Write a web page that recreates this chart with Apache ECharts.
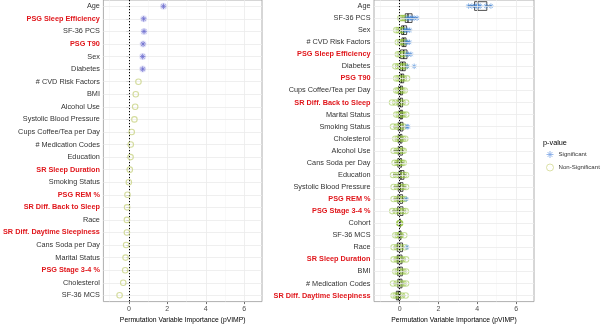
<!DOCTYPE html>
<html>
<head>
<meta charset="utf-8">
<script src="https://cdn.jsdelivr.net/npm/echarts@6/dist/echarts.min.js"></script>
<style>
  html, body { margin: 0; padding: 0; background: #fff; }
  #chart { width: 600px; height: 329px; }
</style>
</head>
<body>
<div id="chart"></div>
<script>
// left panel: one pVIMP per variable
const leftCats = [
  'Age', 'PSG Sleep Efficiency', 'SF-36 PCS', 'PSG T90', 'Sex', 'Diabetes',
  '# CVD Risk Factors', 'BMI', 'Alcohol Use', 'Systolic Blood Pressure',
  'Cups Coffee/Tea per Day', '# Medication Codes', 'Education', 'SR Sleep Duration',
  'Smoking Status', 'PSG REM %', 'SR Diff. Back to Sleep', 'Race',
  'SR Diff. Daytime Sleepiness', 'Cans Soda per Day', 'Marital Status',
  'PSG Stage 3-4 %', 'Cholesterol', 'SF-36 MCS'
]
const leftVals = [
  1.80, 0.77, 0.79, 0.74, 0.72, 0.72,
  0.50, 0.36, 0.33, 0.29,
  0.15, 0.10, 0.09, 0.05,
  0.00, -0.07, -0.09, -0.10,
  -0.10, -0.14, -0.17,
  -0.19, -0.29, -0.48
]
const leftSignificant = [
  true, true, true, true, true, true,
  false, false, false, false, false, false, false, false, false, false,
  false, false, false, false, false, false, false, false
]

// right panel: boxplots of repeated pVIMP runs
const rightCats = [
  'Age', 'SF-36 PCS', 'Sex', '# CVD Risk Factors', 'PSG Sleep Efficiency',
  'Diabetes', 'PSG T90', 'Cups Coffee/Tea per Day', 'SR Diff. Back to Sleep',
  'Marital Status', 'Smoking Status', 'Cholesterol', 'Alcohol Use',
  'Cans Soda per Day', 'Education', 'Systolic Blood Pressure', 'PSG REM %',
  'PSG Stage 3-4 %', 'Cohort', 'SF-36 MCS', 'Race', 'SR Sleep Duration',
  'BMI', '# Medication Codes', 'SR Diff. Daytime Sleepiness'
]
// [lower whisker, Q1, median, Q3, upper whisker]
const rightBox = [
  [3.55, 3.86, 4.02, 4.49, 4.70],
  [0.04, 0.29, 0.43, 0.64, 0.90],
  [-0.17, 0.10, 0.20, 0.36, 0.60],
  [-0.09, 0.12, 0.21, 0.33, 0.50],
  [-0.09, 0.05, 0.21, 0.38, 0.58],
  [-0.22, 0.03, 0.15, 0.29, 0.46],
  [-0.17, 0.00, 0.10, 0.21, 0.38],
  [-0.17, -0.05, 0.05, 0.15, 0.26],
  [-0.22, -0.07, 0.03, 0.15, 0.33],
  [-0.17, -0.03, 0.07, 0.15, 0.34],
  [-0.34, -0.07, 0.03, 0.17, 0.43],
  [-0.22, -0.07, 0.02, 0.12, 0.29],
  [-0.31, -0.07, 0.00, 0.14, 0.21],
  [-0.26, -0.09, 0.00, 0.10, 0.21],
  [-0.34, -0.03, 0.07, 0.22, 0.33],
  [-0.31, -0.07, 0.03, 0.17, 0.33],
  [-0.31, -0.09, 0.00, 0.15, 0.24],
  [-0.38, -0.10, 0.00, 0.17, 0.31],
  [-0.02, 0.00, 0.01, 0.02, 0.03],
  [-0.22, -0.03, 0.00, 0.07, 0.24],
  [-0.31, -0.12, 0.00, 0.15, 0.26],
  [-0.31, -0.12, -0.02, 0.12, 0.33],
  [-0.22, -0.10, 0.00, 0.14, 0.33],
  [-0.34, -0.09, 0.00, 0.12, 0.33],
  [-0.31, -0.17, -0.07, 0.03, 0.31]
]
// individual runs, split by p-value
const rightSig = [
  [3.55, 3.72, 3.88, 3.98, 4.05, 4.15, 4.45, 4.70],
  [0.38, 0.48, 0.55, 0.64, 0.75, 0.90],
  [0.25, 0.33, 0.42, 0.52],
  [0.33, 0.42, 0.50],
  [0.36, 0.45, 0.58],
  [0.40, 0.75],
  [], [], [], [],
  [0.38, 0.43],
  [], [], [], [], [],
  [0.34],
  [], [], [],
  [0.38],
  [], [], [], []
]
const rightNonSig = [
  [],
  [0.04, 0.12, 0.20, 0.29],
  [-0.17, -0.05, 0.05, 0.12, 0.18],
  [-0.09, 0.02, 0.10, 0.18, 0.24],
  [-0.09, 0.00, 0.08, 0.16, 0.24],
  [-0.22, -0.08, 0.03, 0.12, 0.20, 0.30],
  [-0.17, -0.06, 0.04, 0.12, 0.22, 0.38],
  [-0.17, -0.08, 0.00, 0.08, 0.15, 0.26],
  [-0.39, -0.22, -0.05, 0.05, 0.15, 0.33],
  [-0.17, -0.05, 0.05, 0.12, 0.20, 0.34],
  [-0.34, -0.15, -0.02, 0.08, 0.20],
  [-0.22, -0.10, 0.00, 0.08, 0.18, 0.29],
  [-0.31, -0.15, -0.05, 0.05, 0.14, 0.21],
  [-0.26, -0.12, -0.04, 0.05, 0.12, 0.21],
  [-0.34, -0.18, -0.02, 0.10, 0.22, 0.33],
  [-0.31, -0.14, 0.00, 0.10, 0.20, 0.33],
  [-0.31, -0.15, -0.04, 0.06, 0.15, 0.24],
  [-0.38, -0.20, -0.05, 0.06, 0.18, 0.31],
  [-0.02, 0.00, 0.01, 0.03],
  [-0.22, -0.10, 0.00, 0.05, 0.24],
  [-0.31, -0.15, -0.04, 0.08, 0.26],
  [-0.31, -0.15, -0.05, 0.06, 0.15, 0.33],
  [-0.22, -0.10, 0.00, 0.10, 0.20, 0.33],
  [-0.34, -0.15, -0.02, 0.10, 0.20, 0.33],
  [-0.31, -0.20, -0.10, 0.00, 0.12, 0.31]
]

const xTicks = [0, 2, 4, 6]
const xMinor = [-1, 1, 3, 5]
// sleep variables are highlighted in the axis labels
const sleepVars = [
  'PSG Sleep Efficiency', 'PSG T90', 'PSG REM %', 'PSG Stage 3-4 %',
  'SR Sleep Duration', 'SR Diff. Back to Sleep', 'SR Diff. Daytime Sleepiness'
]

const font = 'Liberation Sans'
const fs = 7.3
const red = '#e0161b'
const asterisk = 'path://M5,0L5,10M0,5L10,5M1.6,1.6L8.4,8.4M1.6,8.4L8.4,1.6'

function xAxisFor(gridIndex) {
  return {
    type: 'value',
    gridIndex: gridIndex,
    min: -1.32,
    max: 6.92,
    name: 'Permutation Variable Importance (pVIMP)',
    nameLocation: 'middle',
    nameGap: 15,
    nameTextStyle: { fontFamily: font, fontSize: 6.8, color: '#000' },
    axisLine: { show: false },
    axisTick: { show: true, customValues: xTicks, length: 2.5, lineStyle: { color: '#333', width: 0.7 } },
    axisLabel: { customValues: xTicks, fontFamily: font, fontSize: 7, color: '#4d4d4d', margin: 3.5 },
    splitLine: { show: false }
  }
}

function yAxisFor(gridIndex, cats) {
  return {
    type: 'category',
    gridIndex: gridIndex,
    data: cats,
    inverse: true,
    axisLine: { show: false },
    axisTick: { show: true, interval: 0, alignWithLabel: true, length: 2.5, lineStyle: { color: '#333', width: 0.7 } },
    axisLabel: {
      interval: 0,
      margin: 3.5,
      formatter: v => (sleepVars.includes(v) ? '{r|' + v + '}' : '{n|' + v + '}'),
      rich: {
        r: { fontFamily: font, fontSize: fs, fontWeight: 'bold', color: red },
        n: { fontFamily: font, fontSize: fs, color: '#333' }
      }
    },
    splitLine: { show: false }
  }
}

// background grid lines, as ggplot theme_bw draws them
function gridSeries(idx, cats) {
  const lines = []
  xMinor.forEach(v => lines.push({ xAxis: v, lineStyle: { color: '#f3f3f3', width: 0.5, type: 'solid' } }))
  xTicks.forEach(v => lines.push({ xAxis: v, lineStyle: { color: '#ebebeb', width: 0.8, type: 'solid' } }))
  cats.forEach((c, i) => lines.push({ yAxis: i, lineStyle: { color: '#ebebeb', width: 0.8, type: 'solid' } }))
  lines.push({ xAxis: 0, lineStyle: { color: '#000', width: 1, type: [1.2, 1.8] } })
  return {
    type: 'scatter',
    xAxisIndex: idx,
    yAxisIndex: idx,
    data: [],
    silent: true,
    z: 1,
    markLine: { silent: true, symbol: ['none', 'none'], label: { show: false }, animation: false, data: lines }
  }
}

function renderBox(params, api) {
  const row = api.value(5)
  const p = k => api.coord([api.value(k), row])
  const lo = p(0)
  const q1 = p(1)
  const md = p(2)
  const q3 = p(3)
  const hi = p(4)
  const h = api.size([0, 1])[1] * 0.72
  const st = { stroke: '#222', lineWidth: 0.8, fill: null }
  return {
    type: 'group',
    children: [
      { type: 'line', shape: { x1: lo[0], y1: lo[1], x2: q1[0], y2: q1[1] }, style: st },
      { type: 'line', shape: { x1: q3[0], y1: q3[1], x2: hi[0], y2: hi[1] }, style: st },
      { type: 'rect', shape: { x: q1[0], y: q1[1] - h / 2, width: q3[0] - q1[0], height: h }, style: st },
      { type: 'line', shape: { x1: md[0], y1: md[1] - h / 2, x2: md[0], y2: md[1] + h / 2 }, style: { stroke: '#111', lineWidth: 1.2 } }
    ]
  }
}

const leftSigData = []
const leftNonData = []
leftVals.forEach((v, i) => (leftSignificant[i] ? leftSigData : leftNonData).push([v, i]))

const rightSigData = []
const rightNonData = []
rightSig.forEach((vals, i) => vals.forEach(v => rightSigData.push([v, i])))
rightNonSig.forEach((vals, i) => vals.forEach(v => rightNonData.push([v, i])))

const chart = echarts.init(document.getElementById('chart'))
chart.setOption({
  animation: false,
  backgroundColor: '#fff',
  grid: [
    { left: 102, top: 0, width: 160, height: 308, show: true, borderColor: '#9a9a9a', borderWidth: 0.8, backgroundColor: 'transparent' },
    { left: 374, top: 0, width: 160, height: 308, show: true, borderColor: '#9a9a9a', borderWidth: 0.8, backgroundColor: 'transparent' }
  ],
  xAxis: [xAxisFor(0), xAxisFor(1)],
  yAxis: [yAxisFor(0, leftCats), yAxisFor(1, rightCats)],
  title: {
    text: 'p-value',
    left: 543,
    top: 139,
    padding: 0,
    textStyle: { fontFamily: font, fontSize: fs, fontWeight: 'normal', color: '#000' }
  },
  legend: {
    orient: 'vertical',
    left: 546,
    top: 150.5,
    padding: 0,
    itemWidth: 7,
    itemHeight: 7,
    itemGap: 5,
    selectedMode: false,
    textStyle: { fontFamily: font, fontSize: 6.1, color: '#333' },
    data: [
      { name: 'Significant', icon: asterisk, itemStyle: { color: '#7fa8e6', borderColor: '#7fa8e6', borderWidth: 1 } },
      { name: 'Non-Significant', icon: 'circle', itemStyle: { color: 'rgba(0,0,0,0)', borderColor: '#d2d890', borderWidth: 1 } }
    ]
  },
  series: [
    gridSeries(0, leftCats),
    gridSeries(1, rightCats),
    {
      name: 'Significant',
      type: 'scatter',
      xAxisIndex: 0,
      yAxisIndex: 0,
      data: leftSigData,
      symbol: 'circle',
      symbolSize: 7,
      itemStyle: { color: 'rgba(140,140,225,0.3)' },
      z: 4
    },
    {
      name: 'Significant',
      type: 'scatter',
      xAxisIndex: 0,
      yAxisIndex: 0,
      data: leftSigData,
      symbol: asterisk,
      symbolSize: 5.5,
      itemStyle: { color: '#6f6fd0', borderColor: '#6f6fd0', borderWidth: 1 },
      z: 5
    },
    {
      name: 'Non-Significant',
      type: 'scatter',
      xAxisIndex: 0,
      yAxisIndex: 0,
      data: leftNonData,
      symbol: 'circle',
      symbolSize: 5.5,
      itemStyle: { color: 'rgba(0,0,0,0)', borderColor: '#c9d384', borderWidth: 1.1 },
      z: 5
    },
    {
      type: 'custom',
      xAxisIndex: 1,
      yAxisIndex: 1,
      renderItem: renderBox,
      encode: { x: [0, 1, 2, 3, 4], y: 5 },
      data: rightBox.map((b, i) => b.concat([i])),
      z: 3
    },
    {
      name: 'Non-Significant',
      type: 'scatter',
      xAxisIndex: 1,
      yAxisIndex: 1,
      data: rightNonData,
      symbol: 'circle',
      symbolSize: 5.5,
      itemStyle: { color: 'rgba(0,0,0,0)', borderColor: 'rgba(140,190,50,0.6)', borderWidth: 1.1 },
      z: 4
    },
    {
      name: 'Significant',
      type: 'scatter',
      xAxisIndex: 1,
      yAxisIndex: 1,
      data: rightSigData,
      symbol: asterisk,
      symbolSize: 5.5,
      itemStyle: { color: 'rgba(60,130,215,0.7)', borderColor: 'rgba(60,130,215,0.7)', borderWidth: 1 },
      z: 4
    }
  ]
})
</script>
</body>
</html>
